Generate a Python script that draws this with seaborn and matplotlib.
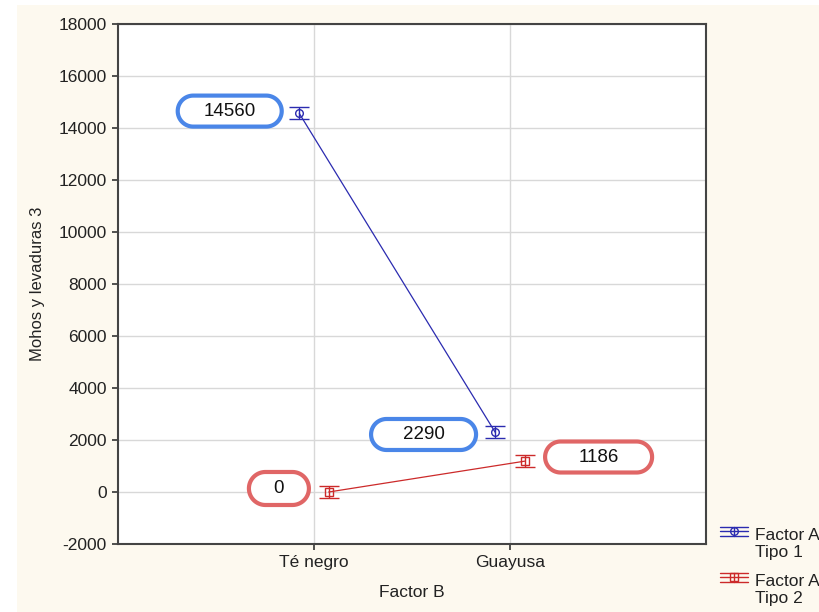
import numpy as np
import pandas as pd
import seaborn as sns
import matplotlib
matplotlib.use("Agg")
import matplotlib.pyplot as plt
from matplotlib import transforms
from matplotlib.lines import Line2D
from matplotlib.patches import Polygon, Rectangle

# Means per level of Factor B for each Factor A type
factor_b = ["Té negro", "Guayusa"]
tipo1 = [14560, 2290]
tipo2 = [0, 1186]
series_names = ["Factor A\nTipo 1", "Factor A\nTipo 2"]
half_err = 230  # half-width of the error bars
y_ticks = list(range(-2000, 18001, 2000))

blue = "#2b2bb0"
red = "#cc2a2a"
box_blue = "#4a86e8"
box_red = "#e06666"
cream = "#fdf9ef"
text_col = "#222222"

df = pd.DataFrame({
    "Factor B": factor_b * 2,
    "valor": tipo1 + tipo2,
    "serie": [series_names[0]] * 2 + [series_names[1]] * 2,
})

sns.set_style("white")
plt.rcParams["font.family"] = ["Liberation Sans", "DejaVu Sans"]

fig = plt.figure(figsize=(8.19, 6.12), dpi=100, facecolor="white")
W, H = 819.0, 612.0
fig.patches.append(Rectangle((17 / W, 0), 1, 1 - 5 / H, transform=fig.transFigure,
                             facecolor=cream, edgecolor="none", zorder=-10))
ax = fig.add_axes([118 / W, 1 - 544 / H, (706 - 118) / W, (544 - 24) / H])
ax.set_facecolor("white")

palette = [blue, red]
sns.pointplot(
    data=df, x="Factor B", y="valor", hue="serie", order=factor_b,
    hue_order=series_names, palette=palette, markers=["o", "s"],
    dodge=0.15, errorbar=None, linewidth=0.9, markersize=5.5,
    markeredgewidth=1.0, legend=False, ax=ax,
)
series_lines = list(ax.lines[:2])
for ln in series_lines:
    ln.set_markerfacecolor("none")

# Error bars at the dodged point positions
for ln, c in zip(series_lines, palette):
    ax.errorbar(ln.get_xdata(), ln.get_ydata(), yerr=half_err, fmt="none",
                ecolor=c, elinewidth=1.0, capsize=7, capthick=1.0, zorder=3)

ax.set_xlim(-1, 2)
ax.set_ylim(-2000, 18000)
ax.set_yticks(y_ticks)
ax.set_yticklabels([str(t) for t in y_ticks])
ax.grid(True, color="#d8d8d8", linewidth=1)
ax.set_axisbelow(True)
for sp in ax.spines.values():
    sp.set_color("#444444")
    sp.set_linewidth(1.5)
ax.tick_params(axis="both", direction="out", length=4, width=1.2, color="#333333",
               labelsize=12.5, labelcolor=text_col, pad=4, left=True, bottom=True)
ax.set_xlabel("Factor B", fontsize=12.5, color=text_col, labelpad=11)
ax.set_ylabel("Mohos y levaduras 3", fontsize=12, color=text_col, labelpad=10)


def pill_vertices(w, h, r, n=24):
    """Rounded rectangle outline (pixels, centred on the origin)."""
    hw, hh = w / 2, h / 2
    pts = []
    corners = [(hw - r, hh - r, 0), (-hw + r, hh - r, 90),
               (-hw + r, -hh + r, 180), (hw - r, -hh + r, 270)]
    for cx, cy, a0 in corners:
        for t in np.linspace(np.radians(a0), np.radians(a0 + 90), n):
            pts.append((cx + r * np.cos(t), cy + r * np.sin(t)))
    return np.array(pts)


def value_label(text, xc, yc, w_px, h_px, edge):
    offset = transforms.ScaledTranslation(xc, yc, ax.transData)
    trans = fig.dpi_scale_trans + offset
    verts = pill_vertices(w_px, h_px, 0.5 * h_px) / 100.0
    ax.add_patch(Polygon(verts, closed=True, transform=trans, facecolor="white",
                         edgecolor=edge, linewidth=3.0, zorder=5, clip_on=False))
    ax.text(xc, yc, text, ha="center", va="center", fontsize=13.5,
            color="#111111", zorder=6)


value_label(str(tipo1[0]), -0.43, 14650, 104, 31, box_blue)
value_label(str(tipo1[1]), 0.559, 2212, 105, 31, box_blue)
value_label(str(tipo2[0]), -0.179, 135, 60, 33, box_red)
value_label(str(tipo2[1]), 1.452, 1346, 107, 31, box_red)


# Legend outside the plot area: error-bar glyph plus two-line label
def fx(px):
    return px / W


def fy(py):
    return 1 - py / H


for (name, c, m, y_mid, y_txt) in [(series_names[0], blue, "o", 531, 536),
                                   (series_names[1], red, "s", 577, 581)]:
    x0, x1 = 720, 748
    for dy in (-4.5, 0, 4.5):
        fig.add_artist(Line2D([fx(x0), fx(x1)], [fy(y_mid + dy), fy(y_mid + dy)],
                              color=c, linewidth=1.0, transform=fig.transFigure))
    fig.add_artist(Line2D([fx(734), fx(734)], [fy(y_mid - 4.5), fy(y_mid + 4.5)],
                          color=c, linewidth=1.0, transform=fig.transFigure))
    fig.add_artist(Line2D([fx(734)], [fy(y_mid)], marker=m, markersize=5.5,
                          mfc="none", mec=c, mew=1.0, linestyle="none",
                          transform=fig.transFigure))
    first, second = name.split("\n")
    fig.text(fx(755), fy(y_txt), first, fontsize=12.5, color=text_col, va="center")
    fig.text(fx(755), fy(y_txt + 17), second, fontsize=12.5, color=text_col, va="center")

fig.savefig("out.png", dpi=100, facecolor=fig.get_facecolor())
